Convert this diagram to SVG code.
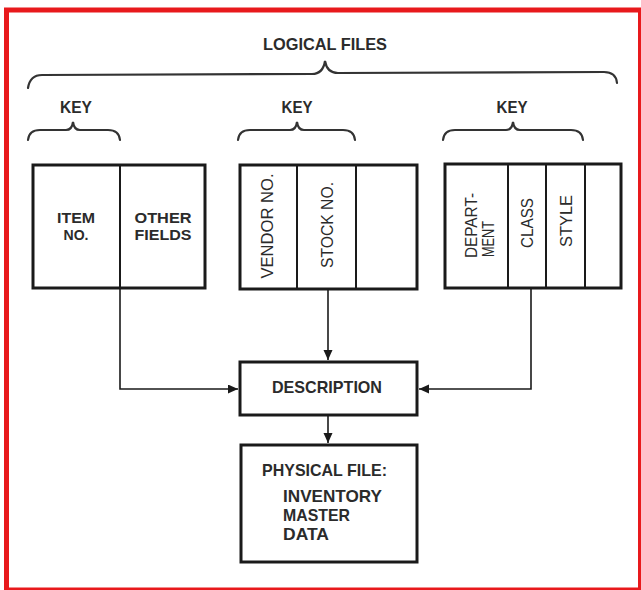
<svg xmlns="http://www.w3.org/2000/svg" width="641" height="590" viewBox="0 0 641 590">
<style>
.t{font-family:"Liberation Sans",Arial,sans-serif;font-weight:bold;fill:#2b2b2b;font-size:17px}
.s{font-family:"Liberation Sans",Arial,sans-serif;font-weight:bold;fill:#2b2b2b;font-size:15px}
.r{font-family:"Liberation Sans",Arial,sans-serif;font-weight:normal;fill:#2b2b2b;font-size:17px}
.box{fill:none;stroke:#1a1a1a;stroke-width:3}
.div{fill:none;stroke:#1a1a1a;stroke-width:2}
.brace{fill:none;stroke:#333;stroke-width:2.2;stroke-linecap:round}
.con{fill:none;stroke:#1a1a1a;stroke-width:1.6}
</style>
<defs>
<marker id="ah" markerUnits="userSpaceOnUse" markerWidth="11" markerHeight="10" refX="10" refY="4.5" orient="auto">
<path d="M0,0 L10,4.5 L0,9 z" fill="#1a1a1a"/>
</marker>
</defs>
<rect x="0" y="0" width="641" height="590" fill="#ffffff"/>
<rect x="6.5" y="10" width="634" height="580" fill="none" stroke="#e8191c" stroke-width="5"/>

<g id="title">
<text class="t" x="325" y="50" text-anchor="middle" textLength="124" lengthAdjust="spacingAndGlyphs">LOGICAL FILES</text>
<path class="brace" d="M28,88 Q30,75 42,75 L312,74 Q323,74 325,61 Q327,73 338,73 L604,72 Q616,72 617,83"/>
</g>

<g id="key1">
<text class="t" x="76" y="113" text-anchor="middle" textLength="32" lengthAdjust="spacingAndGlyphs">KEY</text>
<path class="brace" d="M28,140 Q29,130 40,130 L66,130 Q72,130 73,122 Q74,130 80,130 L108,130 Q119,130 120,140"/>
</g>
<g id="key2">
<text class="t" x="297" y="113" text-anchor="middle" textLength="31" lengthAdjust="spacingAndGlyphs">KEY</text>
<path class="brace" d="M238,140 Q239,130 250,130 L290,130 Q296,130 297,122 Q298,130 304,130 L343,130 Q354,130 355,140"/>
</g>
<g id="key3">
<text class="t" x="512" y="113" text-anchor="middle" textLength="31" lengthAdjust="spacingAndGlyphs">KEY</text>
<path class="brace" d="M443,140 Q444,130 455,130 L506,130 Q512,130 513,122 Q514,130 520,130 L571,130 Q582,130 583,140"/>
</g>

<g id="file1">
<rect class="box" x="33" y="165" width="172" height="123"/>
<line class="div" x1="120" y1="165" x2="120" y2="288"/>
<text class="s" x="76" y="222.5" text-anchor="middle" textLength="38" lengthAdjust="spacingAndGlyphs">ITEM</text>
<text class="s" x="76" y="240" text-anchor="middle" textLength="25" lengthAdjust="spacingAndGlyphs">NO.</text>
<text class="s" x="163" y="222.5" text-anchor="middle" textLength="57" lengthAdjust="spacingAndGlyphs">OTHER</text>
<text class="s" x="163" y="240" text-anchor="middle" textLength="57" lengthAdjust="spacingAndGlyphs">FIELDS</text>
</g>

<g id="file2">
<rect class="box" x="240" y="165" width="177" height="124"/>
<line class="div" x1="297" y1="165" x2="297" y2="289"/>
<line class="div" x1="356" y1="165" x2="356" y2="289"/>
<text class="r" transform="translate(273,226) rotate(-90)" x="0" y="0" text-anchor="middle" textLength="105" lengthAdjust="spacingAndGlyphs">VENDOR NO.</text>
<text class="r" transform="translate(333,225) rotate(-90)" x="0" y="0" text-anchor="middle" textLength="86" lengthAdjust="spacingAndGlyphs">STOCK NO.</text>
</g>

<g id="file3">
<rect class="box" x="445" y="164" width="176" height="124"/>
<line class="div" x1="508" y1="164" x2="508" y2="288"/>
<line class="div" x1="546" y1="164" x2="546" y2="288"/>
<line class="div" x1="585" y1="164" x2="585" y2="288"/>
<text class="r" transform="translate(477,258) rotate(-90)" x="0" y="0" textLength="65" lengthAdjust="spacingAndGlyphs">DEPART-</text>
<text class="r" transform="translate(494,257) rotate(-90)" x="0" y="0" textLength="36" lengthAdjust="spacingAndGlyphs">MENT</text>
<text class="r" transform="translate(533,223) rotate(-90)" x="0" y="0" text-anchor="middle" textLength="50" lengthAdjust="spacingAndGlyphs">CLASS</text>
<text class="r" transform="translate(572,221) rotate(-90)" x="0" y="0" text-anchor="middle" textLength="52" lengthAdjust="spacingAndGlyphs">STYLE</text>
</g>

<g id="description">
<rect class="box" x="240" y="362" width="177" height="53"/>
<text class="t" x="327" y="393" text-anchor="middle" textLength="110" lengthAdjust="spacingAndGlyphs">DESCRIPTION</text>
</g>

<g id="physical">
<rect class="box" x="241" y="445" width="176" height="117"/>
<text class="t" x="262" y="476" textLength="125" lengthAdjust="spacingAndGlyphs">PHYSICAL FILE:</text>
<text class="t" x="283" y="502" textLength="99" lengthAdjust="spacingAndGlyphs">INVENTORY</text>
<text class="t" x="283" y="521" textLength="67" lengthAdjust="spacingAndGlyphs">MASTER</text>
<text class="t" x="283" y="540" textLength="46" lengthAdjust="spacingAndGlyphs">DATA</text>
</g>

<g id="connectors">
<path class="con" d="M120,288 V389 H238" marker-end="url(#ah)"/>
<path class="con" d="M328,289 V360" marker-end="url(#ah)"/>
<path class="con" d="M531,288 V389 H419" marker-end="url(#ah)"/>
<path class="con" d="M328,415 V443" marker-end="url(#ah)"/>
</g>
</svg>
